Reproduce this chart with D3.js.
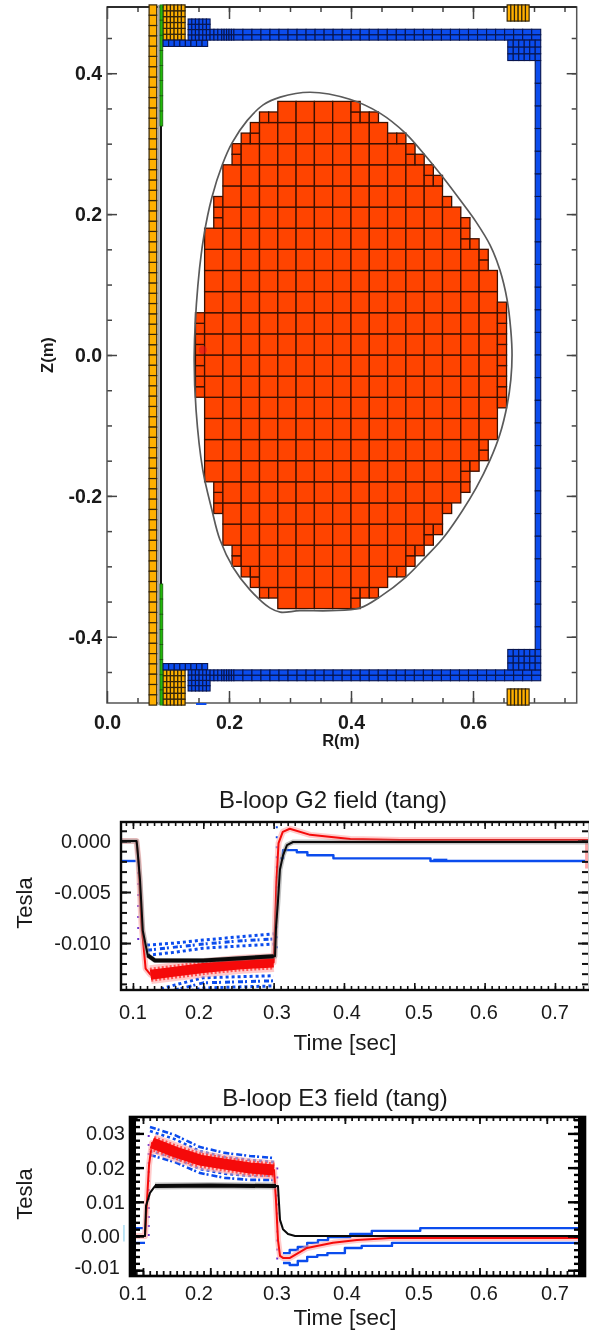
<!DOCTYPE html>
<html lang="en">

<head>
    <meta charset="UTF-8" />
    <title>Plasma grid and B-loop fields</title>
    <script src="https://d3js.org/d3.v7.min.js"></script>
    <style>
        body {
            margin: 0;
            background: #fff;
        }

        svg {
            display: block;
            filter: blur(0.4px);
        }

        text {
            font-family: "Liberation Sans", sans-serif;
            fill: #1a1a1a;
        }
    </style>
</head>

<body>

    <div id="chart"></div>

    <script>
        // ---- cross section data, R and Z in metres ----
        const rTicks = [0, 0.2, 0.4, 0.6];
        const zTicks = [-0.4, -0.2, 0, 0.2, 0.4];

        // plasma rows, half cell high, from the top down to the midplane (mirrored below)
        const rowTop = [0.36, 0.345, 0.33, 0.315, 0.30, 0.285, 0.27, 0.255, 0.24, 0.225, 0.21, 0.195, 0.18, 0.165, 0.15, 0.135, 0.12, 0.105, 0.09, 0.075, 0.06, 0.045, 0.03, 0.015];
        const rowLeft = [0.28, 0.25, 0.235, 0.22, 0.205, 0.205, 0.19, 0.19, 0.19, 0.175, 0.175, 0.175, 0.16, 0.16, 0.16, 0.16, 0.16, 0.16, 0.16, 0.16, 0.145, 0.145, 0.145, 0.145];
        const rowRight = [0.415, 0.445, 0.46, 0.49, 0.505, 0.52, 0.535, 0.55, 0.55, 0.565, 0.58, 0.595, 0.595, 0.61, 0.625, 0.625, 0.64, 0.64, 0.64, 0.655, 0.655, 0.655, 0.655, 0.655];

        const boundaryR = [0.664, 0.662, 0.656, 0.644, 0.628, 0.605, 0.579, 0.551, 0.521, 0.489, 0.448, 0.398, 0.333, 0.284, 0.256, 0.230, 0.205, 0.189, 0.172, 0.159, 0.149, 0.143, 0.146, 0.157, 0.172, 0.185, 0.207, 0.234, 0.267, 0.284, 0.316, 0.366, 0.415, 0.448, 0.489, 0.521, 0.549, 0.575, 0.605, 0.628, 0.644, 0.656, 0.662];
        const boundaryZ = [0, 0.035, 0.078, 0.121, 0.156, 0.189, 0.220, 0.252, 0.284, 0.315, 0.343, 0.363, 0.373, 0.366, 0.355, 0.333, 0.301, 0.270, 0.224, 0.170, 0.099, 0, -0.078, -0.163, -0.220, -0.262, -0.302, -0.333, -0.359, -0.365, -0.363, -0.363, -0.359, -0.343, -0.316, -0.288, -0.262, -0.231, -0.189, -0.149, -0.113, -0.071, -0.035];

        // blocks: r0, r1, z0, z1, columns, rows (upper half, mirrored below)
        const blueBlocks = [
            [0.092, 0.165, 0.438, 0.447, 8, 1],
            [0.133, 0.169, 0.447, 0.477, 6, 4],
            [0.169, 0.188, 0.447, 0.4624, 3, 2],
            [0.188, 0.208, 0.447, 0.4624, 5, 2],
            [0.208, 0.711, 0.447, 0.4624, 34, 2],
            [0.657, 0.711, 0.418, 0.447, 6, 3],
            [0.702, 0.711, 0, 0.418, 1, 13]
        ];
        const yellowBlocks = [
            [0.092, 0.128, 0.447, 0.497, 6, 6],
            [0.656, 0.692, 0.474, 0.497, 6, 1],
            [0.069, 0.0815, 0, 0.497, 1, 34]
        ];
        const greenBlocks = [
            [0.0868, 0.0915, 0.325, 0.497, 1, 8]
        ];

        // ---- G2 loop ----
        const timeTicks = [0.1, 0.2, 0.3, 0.4, 0.5, 0.6, 0.7];
        const g2Ticks = [0, -0.005, -0.01];

        const g2BlackTime = [0.083, 0.105, 0.106, 0.110, 0.114, 0.121, 0.131, 0.2, 0.3, 0.302, 0.3034, 0.3063, 0.309, 0.3134, 0.319, 0.3276, 0.75];
        const g2Black = [0, 0, -0.0005, -0.0038, -0.0088, -0.0112, -0.0117, -0.0117, -0.0113, -0.0113, -0.0085, -0.0058, -0.0028, -0.0014, -0.0004, -0.0001, -0.0001];

        const g2RedTime = [0.083, 0.105, 0.108, 0.112, 0.118, 0.125, 0.16, 0.2, 0.25, 0.3, 0.302, 0.304, 0.307, 0.313, 0.323, 0.352, 0.409, 0.48, 0.75];
        const g2Red = [0, 0, -0.002, -0.008, -0.0125, -0.0131, -0.0128, -0.01245, -0.0121, -0.0119, -0.0085, -0.004, -0.0002, 0.0009, 0.0012, 0.0006, 0.0002, 0.0001, 0.0001];

        const g2BlueBeforeTime = [0.083, 0.104];
        const g2BlueBefore = [-0.00196, -0.00196];
        const g2BlueAfterTime = [0.309, 0.3134, 0.333, 0.348, 0.385, 0.523, 0.75];
        const g2BlueAfter = [-0.0017, -0.0009, -0.0011, -0.0014, -0.0017, -0.00196, -0.00196];

        const g2HiTime = [0.12, 0.16, 0.2, 0.25, 0.3];
        const g2Hi1 = [-0.0102, -0.0100, -0.0097, -0.0094, -0.0091];
        const g2Hi2 = [-0.0107, -0.0104, -0.0101, -0.0098, -0.0096];
        const g2Hi3 = [-0.0112, -0.0109, -0.0105, -0.0103, -0.0101];
        const g2LoTime = [0.14, 0.16, 0.2, 0.25, 0.3];
        const g2Lo1 = [-0.0145, -0.0141, -0.0134, -0.0133, -0.0132];
        const g2Lo2 = [-0.0148, -0.0146, -0.0139, -0.0138, -0.0137];
        const g2Lo3 = [-0.0150, -0.0150, -0.0144, -0.0143, -0.0142];

        // ---- E3 loop ----
        const e3Ticks = [-0.01, 0, 0.01, 0.02, 0.03];

        const e3BlackTime = [0.0807, 0.103, 0.1045, 0.1104, 0.1178, 0.2, 0.2976, 0.3006, 0.3036, 0.308, 0.3155, 0.326, 0.76];
        const e3Black = [0, 0, 0.0088, 0.0126, 0.0146, 0.0148, 0.0146, 0.0146, 0.0047, 0.002, 0.0006, 0, 0];

        const e3RedTime = [0.0807, 0.103, 0.106, 0.109, 0.1134, 0.1475, 0.1847, 0.2218, 0.259, 0.2947, 0.2976, 0.3006, 0.3036, 0.308, 0.3184, 0.3437, 0.3823, 0.418, 0.467, 0.76];
        const e3Red = [0, 0, 0.0105, 0.0208, 0.0272, 0.0246, 0.0222, 0.021, 0.0199, 0.0193, 0.0105, -0.0012, -0.0058, -0.0064, -0.0064, -0.0035, -0.002, -0.0012, -0.0006, -0.0006];

        const e3BandTime = [0.1104, 0.1475, 0.1847, 0.2218, 0.259, 0.2947];
        const e3Hi1 = [0.0319, 0.0295, 0.026, 0.0243, 0.0234, 0.0228];
        const e3Hi2 = [0.0307, 0.0283, 0.0248, 0.0231, 0.0222, 0.0216];
        const e3Lo1 = [0.0237, 0.0216, 0.0184, 0.017, 0.0164, 0.0164];
        const e3Lo2 = [0.0249, 0.0228, 0.0196, 0.0182, 0.0176, 0.0176];

        const e3UpperTime = [0.0807, 0.1, 0.1001, 0.308, 0.318, 0.33, 0.344, 0.36, 0.375, 0.408, 0.44, 0.512, 0.76];
        const e3Upper = [0.0023, 0.0023, NaN, -0.005, -0.0041, -0.0032, -0.002, -0.0012, -0.0003, 0.0006, 0.0015, 0.0023, 0.0023];
        const e3LowerTime = [0.0807, 0.103, 0.1031, 0.308, 0.318, 0.33, 0.344, 0.359, 0.374, 0.4, 0.425, 0.47, 0.76];
        const e3Lower = [-0.002, -0.002, NaN, -0.0079, -0.0085, -0.0073, -0.0061, -0.0056, -0.005, -0.0035, -0.0029, -0.002, -0.002];

        // ---- layout ----
        const labelX = [133, 199, 277, 347, 419, 484, 555];
        const blue = "#0b4ced", red = "#f50a0a", pink = "#ffa8a8";

        const svg = d3.select("#chart").append("svg")
            .attr("width", 589)
            .attr("height", 1330);

        // ticks drawn inward from an edge, axis domain removed
        function inwardTicks(parent, axisFn, scale, values, size, pos, width, color) {
            const isX = axisFn === d3.axisTop || axisFn === d3.axisBottom;
            parent.append("g")
                .attr("transform", isX ? `translate(0,${pos})` : `translate(${pos},0)`)
                .call(axisFn(scale).tickValues(values).tickSize(-size).tickFormat(""))
                .call(g => g.select(".domain").remove())
                .call(g => g.selectAll("text").remove())
                .selectAll("line")
                .attr("stroke", color)
                .attr("stroke-width", width);
        }

        function frame(parent, x0, x1, y0, y1, color, width) {
            parent.append("rect")
                .attr("x", x0).attr("y", y0)
                .attr("width", x1 - x0).attr("height", y1 - y0)
                .attr("fill", "none")
                .attr("stroke", color)
                .attr("stroke-width", width);
        }

        function multiples(step, from, to) {
            const n = Math.round((to - from) / step);
            return d3.range(n + 1).map(i => from + i * step);
        }

        // ================= cross section =================
        const r = d3.scaleLinear().domain([0, 0.77]).range([107, 576.7]);
        const z = d3.scaleLinear().domain([-0.494, 0.494]).range([703, 7]);

        const section = svg.append("g");

        const rMinor = multiples(0.05, 0.05, 0.75);
        const zMinor = multiples(0.05, -0.45, 0.45);
        inwardTicks(section, d3.axisBottom, r, rMinor, 5, 703, 1.5, "#444");
        inwardTicks(section, d3.axisTop, r, rMinor, 5, 7, 1.5, "#444");
        inwardTicks(section, d3.axisLeft, z, zMinor, 5, 107, 1.5, "#444");
        inwardTicks(section, d3.axisRight, z, zMinor, 5, 576.7, 1.5, "#444");
        inwardTicks(section, d3.axisTop, r, rTicks, 12, 7, 1.5, "#444");
        inwardTicks(section, d3.axisLeft, z, zTicks, 10, 107, 1.5, "#444");
        inwardTicks(section, d3.axisRight, z, zTicks, 10, 576.7, 1.5, "#444");
        frame(section, 107, 576.7, 7, 703, "#555", 1.5);
        section.append("line").attr("x1", 107).attr("x2", 576.7).attr("y1", 7).attr("y2", 7)
            .attr("stroke", "#111").attr("stroke-width", 1.5);

        // bottom axis with labels
        section.append("g")
            .attr("transform", "translate(0,703)")
            .call(d3.axisBottom(r).tickValues(rTicks).tickSize(-12).tickPadding(12).tickFormat(d => d.toFixed(1)))
            .call(g => g.select(".domain").remove())
            .call(g => g.selectAll("line").attr("stroke", "#444").attr("stroke-width", 1.5))
            .call(g => g.selectAll("text").style("font-size", "19.5px").style("font-weight", "bold")
                .style("font-family", "'Liberation Sans', sans-serif"));

        section.append("g")
            .attr("transform", "translate(107,0)")
            .call(d3.axisLeft(z).tickValues(zTicks).tickSize(0).tickPadding(5).tickFormat(d => d.toFixed(1)))
            .call(g => g.select(".domain").remove())
            .call(g => g.selectAll("text").style("font-size", "19.5px").style("font-weight", "bold")
                .style("font-family", "'Liberation Sans', sans-serif"));

        section.append("text")
            .attr("x", 341).attr("y", 746)
            .attr("text-anchor", "middle")
            .style("font-size", "16.5px").style("font-weight", "bold")
            .text("R(m)");
        section.append("text")
            .attr("transform", "translate(53,355) rotate(-90)")
            .attr("text-anchor", "middle")
            .style("font-size", "16.5px").style("font-weight", "bold")
            .text("Z(m)");

        // splits a block into its cells, plus the mirrored copy below the midplane
        function blockCells(blocks) {
            const cells = [];
            blocks.forEach(([r0, r1, z0, z1, cols, rows]) => {
                const dr = (r1 - r0) / cols, dz = (z1 - z0) / rows;
                d3.range(cols).forEach(i => d3.range(rows).forEach(j => {
                    const a = z0 + j * dz, b = a + dz;
                    cells.push({ r0: r0 + i * dr, r1: r0 + (i + 1) * dr, z0: a, z1: b });
                    cells.push({ r0: r0 + i * dr, r1: r0 + (i + 1) * dr, z0: -b, z1: -a });
                }));
            });
            return cells;
        }

        function drawCells(cells, fill, stroke, width) {
            section.append("g").selectAll("rect")
                .data(cells)
                .join("rect")
                .attr("x", d => r(d.r0))
                .attr("y", d => z(d.z1))
                .attr("width", d => r(d.r1) - r(d.r0))
                .attr("height", d => z(d.z0) - z(d.z1))
                .attr("fill", fill)
                .attr("stroke", stroke)
                .attr("stroke-width", width);
        }

        // plasma: 3 cm cells, split in four where the edge cuts through them
        function insideAt(rMid, zMid) {
            const i = rowTop.findIndex(t => Math.abs(zMid) < t && Math.abs(zMid) > t - 0.015);
            return i >= 0 && rMid > rowLeft[i] && rMid < rowRight[i];
        }
        const half = 0.015;
        const plasmaCells = [];
        d3.range(0, 18).forEach(i => {
            const c0 = 0.13 + i * 0.03;
            d3.range(0, 24).forEach(j => {
                const d0 = -0.36 + j * 0.03;
                const quarters = [[0, 0], [1, 0], [0, 1], [1, 1]]
                    .map(([a, b]) => ({ r0: c0 + a * half, r1: c0 + (a + 1) * half, z0: d0 + b * half, z1: d0 + (b + 1) * half }))
                    .filter(q => insideAt((q.r0 + q.r1) / 2, (q.z0 + q.z1) / 2));
                if (quarters.length === 4) {
                    plasmaCells.push({ r0: c0, r1: c0 + 0.03, z0: d0, z1: d0 + 0.03 });
                } else {
                    plasmaCells.push(...quarters);
                }
            });
        });

        // passive structures
        section.append("rect")
            .attr("x", r(0.083)).attr("y", z(0.497))
            .attr("width", r(0.0865) - r(0.083)).attr("height", z(-0.497) - z(0.497))
            .attr("fill", "#a8a8a8");
        section.append("line")
            .attr("x1", r(0.0885)).attr("x2", r(0.0885))
            .attr("y1", z(0.325)).attr("y2", z(-0.325))
            .attr("stroke", "#111").attr("stroke-width", 2);

        drawCells(blockCells(yellowBlocks), "#ffb000", "#33250a", 1.2);
        drawCells(blockCells(greenBlocks), "#22b80a", "#14500a", 0.7);
        drawCells(blockCells(blueBlocks), blue, "#081650", 1.1);
        drawCells(plasmaCells, "#ff4400", "#3c1000", 1.3);

        section.append("circle")
            .attr("cx", r(0.157)).attr("cy", z(0.007)).attr("r", 4)
            .attr("fill", "#e3141a").attr("opacity", 0.6);

        section.append("rect")
            .attr("x", r(0.146)).attr("y", z(-0.494))
            .attr("width", r(0.163) - r(0.146)).attr("height", 2)
            .attr("fill", blue);

        const boundary = d3.line().curve(d3.curveCatmullRomClosed.alpha(0.5))
            .x(d => r(d[0])).y(d => z(d[1]));
        section.append("path")
            .attr("d", boundary(d3.zip(boundaryR, boundaryZ)))
            .attr("fill", "none")
            .attr("stroke", "#5a5a5a")
            .attr("stroke-width", 1.7);

        // ================= B-loop panels =================
        function series(parent, x, y, times, values, style) {
            const line = d3.line()
                .defined(d => !isNaN(d[1]))
                .curve(style.curve || d3.curveLinear)
                .x(d => x(d[0])).y(d => y(d[1]));
            const points = d3.zip(times, values)
                .filter(d => style.from === undefined || (d[0] >= style.from && d[0] <= style.to));
            parent.append("path")
                .attr("d", line(points))
                .attr("fill", "none")
                .attr("stroke", style.color)
                .attr("stroke-width", style.width)
                .attr("stroke-dasharray", style.dash || null)
                .attr("stroke-linejoin", "round")
                .attr("opacity", style.opacity === undefined ? 1 : style.opacity);
        }

        function panelText(title, titleX, titleY, tickY, timeY, teslaY) {
            svg.append("text")
                .attr("x", titleX).attr("y", titleY)
                .attr("text-anchor", "middle")
                .style("font-size", "24px")
                .text(title);
            svg.append("text")
                .attr("x", 345).attr("y", timeY)
                .attr("text-anchor", "middle")
                .style("font-size", "22.5px")
                .text("Time [sec]");
            svg.append("text")
                .attr("transform", `translate(32,${teslaY}) rotate(-90)`)
                .attr("text-anchor", "middle")
                .style("font-size", "22px")
                .text("Tesla");
            svg.append("g").selectAll("text")
                .data(timeTicks)
                .join("text")
                .attr("x", (d, i) => labelX[i])
                .attr("y", tickY)
                .attr("text-anchor", "middle")
                .style("font-size", "20px")
                .text(d => d.toFixed(1));
        }

        // ---- G2 ----
        const g2x = d3.scaleLinear().domain([0.083, 0.747]).range([121, 588]);
        const g2y = d3.scaleLinear().domain([-0.0146, 0.00186]).range([990, 822]);

        svg.append("clipPath").attr("id", "g2clip").append("rect")
            .attr("x", 121).attr("y", 822).attr("width", 467).attr("height", 168);
        const g2 = svg.append("g").attr("clip-path", "url(#g2clip)");

        const dots = { color: blue, width: 3, dash: "3 3" };
        [g2Hi1, g2Hi2, g2Hi3].forEach((v, i) =>
            series(g2, g2x, g2y, g2HiTime, v, { ...dots, dash: i === 1 ? "5 2 2 4" : "3 3" }));
        [g2Lo1, g2Lo2, g2Lo3].forEach((v, i) =>
            series(g2, g2x, g2y, g2LoTime, v, { ...dots, dash: i === 1 ? "5 2 2 4" : "3 3" }));

        series(g2, g2x, g2y, [0.1075, 0.1075], [-0.00196, -0.0105], { color: "#6a2fd0", width: 2, dash: "2 9" });
        series(g2, g2x, g2y, [0.3045, 0.3045], [-0.0105, 0.0018], { color: blue, width: 2, dash: "2 8" });

        series(g2, g2x, g2y, g2BlueBeforeTime, g2BlueBefore, { color: blue, width: 2.4 });
        series(g2, g2x, g2y, g2BlueAfterTime, g2BlueAfter, { color: blue, width: 2.4, curve: d3.curveStepAfter });
        series(g2, g2x, g2y, [0.527, 0.547], [-0.00188, -0.00188], { color: blue, width: 3 });

        series(g2, g2x, g2y, g2RedTime, g2Red, { color: pink, width: 6, opacity: 0.6 });
        series(g2, g2x, g2y, g2RedTime, g2Red, { color: pink, width: 19, opacity: 0.6, from: 0.125, to: 0.3 });
        series(g2, g2x, g2y, g2RedTime, g2Red, { color: red, width: 2 });
        series(g2, g2x, g2y, g2RedTime, g2Red, { color: "#ff5050", width: 14, dash: "2 2", from: 0.125, to: 0.3 });
        series(g2, g2x, g2y, g2RedTime, g2Red, { color: red, width: 10, from: 0.125, to: 0.3 });
        series(g2, g2x, g2y, [0.745, 0.745], [0.0001, -0.0027], { color: pink, width: 3 });

        series(g2, g2x, g2y, g2BlackTime, g2Black, { color: "#888", width: 5, opacity: 0.5 });
        series(g2, g2x, g2y, g2BlackTime, g2Black, { color: "#0a0a0a", width: 2 });
        series(g2, g2x, g2y, g2BlackTime, g2Black, { color: "#0a0a0a", width: 4, from: 0.121, to: 0.3 });

        const g2Minor = multiples(0.001, -0.014, 0.001);
        const g2TimeMinor = multiples(0.01, 0.09, 0.74);
        inwardTicks(svg, d3.axisBottom, g2x, g2TimeMinor, 4, 990, 1.6, "#111");
        inwardTicks(svg, d3.axisTop, g2x, g2TimeMinor, 4, 822, 1.6, "#111");
        inwardTicks(svg, d3.axisBottom, g2x, timeTicks, 7, 990, 1.6, "#111");
        inwardTicks(svg, d3.axisTop, g2x, timeTicks, 7, 822, 1.6, "#111");
        inwardTicks(svg, d3.axisLeft, g2y, g2Minor, 6, 121, 2, "#111");
        inwardTicks(svg, d3.axisRight, g2y, g2Minor, 6, 588, 2, "#111");
        inwardTicks(svg, d3.axisLeft, g2y, g2Ticks, 10, 121, 2, "#111");
        inwardTicks(svg, d3.axisRight, g2y, g2Ticks, 10, 588, 2, "#111");
        frame(svg, 121, 590, 822, 990, "#0a0a0a", 2.4);

        svg.append("g")
            .attr("transform", "translate(121,0)")
            .call(d3.axisLeft(g2y).tickValues(g2Ticks).tickSize(0).tickPadding(10).tickFormat(d => d.toFixed(3)))
            .call(g => g.select(".domain").remove())
            .call(g => g.selectAll("text").style("font-size", "20px")
                .style("font-family", "'Liberation Sans', sans-serif"));

        panelText("B-loop G2 field (tang)", 333, 808, 1019, 1050, 903);

        // ---- E3 ----
        const e3x = d3.scaleLinear().domain([0.0807, 0.7568]).range([130, 585]);
        const e3y = d3.scaleLinear().domain([-0.0117, 0.0348]).range([1276, 1117]);

        svg.append("clipPath").attr("id", "e3clip").append("rect")
            .attr("x", 130).attr("y", 1117).attr("width", 455).attr("height", 159);
        const e3 = svg.append("g").attr("clip-path", "url(#e3clip)");

        [e3Hi1, e3Hi2, e3Lo1, e3Lo2].forEach((v, i) =>
            series(e3, e3x, e3y, e3BandTime, v, { ...dots, width: 2.6, dash: i % 2 ? "3 3" : "6 2 2 3" }));
        series(e3, e3x, e3y, [0.1085, 0.1085], [0, 0.03], { color: "#6a2fd0", width: 2, dash: "2 7" });
        series(e3, e3x, e3y, [0.2995, 0.2995], [0.02, -0.008], { color: "#6a2fd0", width: 2, dash: "2 7" });

        series(e3, e3x, e3y, e3UpperTime, e3Upper, { color: blue, width: 2.4, curve: d3.curveStepAfter });
        series(e3, e3x, e3y, e3LowerTime, e3Lower, { color: blue, width: 2.4, curve: d3.curveStepAfter });

        series(e3, e3x, e3y, e3RedTime, e3Red, { color: pink, width: 6, opacity: 0.6 });
        series(e3, e3x, e3y, e3RedTime, e3Red, { color: pink, width: 19, opacity: 0.6, from: 0.1134, to: 0.2947 });
        series(e3, e3x, e3y, e3RedTime, e3Red, { color: red, width: 2 });
        series(e3, e3x, e3y, e3RedTime, e3Red, { color: "#ff5050", width: 15, dash: "2 2", from: 0.1134, to: 0.2947 });
        series(e3, e3x, e3y, e3RedTime, e3Red, { color: red, width: 11, from: 0.1134, to: 0.2947 });

        series(e3, e3x, e3y, e3BlackTime, e3Black, { color: "#888", width: 7, opacity: 0.5, from: 0.1178, to: 0.2976 });
        series(e3, e3x, e3y, e3BlackTime, e3Black, { color: "#0a0a0a", width: 2 });
        series(e3, e3x, e3y, e3BlackTime, e3Black, { color: "#0a0a0a", width: 4, from: 0.1178, to: 0.2976 });
        series(svg, e3x, e3y, [0.0717, 0.0717], [0.0032, -0.0016], { color: "#a8dcf2", width: 1.5 });

        const e3Minor = multiples(0.002, -0.01, 0.034);
        const e3TimeMinor = multiples(0.01, 0.09, 0.75);
        inwardTicks(svg, d3.axisBottom, e3x, e3TimeMinor, 5, 1276, 1.8, "#111");
        inwardTicks(svg, d3.axisTop, e3x, e3TimeMinor, 4, 1117, 1.8, "#111");
        inwardTicks(svg, d3.axisBottom, e3x, timeTicks, 8, 1276, 1.8, "#111");
        inwardTicks(svg, d3.axisTop, e3x, timeTicks, 7, 1117, 1.8, "#111");
        inwardTicks(svg, d3.axisLeft, e3y, e3Minor, 10, 130, 2.4, "#000");
        inwardTicks(svg, d3.axisRight, e3y, e3Minor, 11, 585, 2.4, "#000");
        inwardTicks(svg, d3.axisLeft, e3y, e3Ticks, 14, 130, 2.4, "#000");
        inwardTicks(svg, d3.axisRight, e3y, e3Ticks, 17, 585, 2.4, "#000");
        frame(svg, 130, 585, 1117, 1276, "#000", 2.6);
        svg.append("rect").attr("x", 129).attr("y", 1117).attr("width", 7).attr("height", 160).attr("fill", "#000");
        svg.append("rect").attr("x", 578).attr("y", 1117).attr("width", 7).attr("height", 160).attr("fill", "#000");

        svg.append("g").selectAll("text")
            .data(e3Ticks)
            .join("text")
            .attr("x", d => d > 0 ? 125 : 120)
            .attr("y", d => e3y(d) + (d < 0 ? 4 : 7))
            .attr("text-anchor", "end")
            .style("font-size", "20px")
            .text(d => d.toFixed(2));

        panelText("B-loop E3 field (tang)", 335, 1106, 1300, 1325, 1194);
    </script>

</body>

</html>
